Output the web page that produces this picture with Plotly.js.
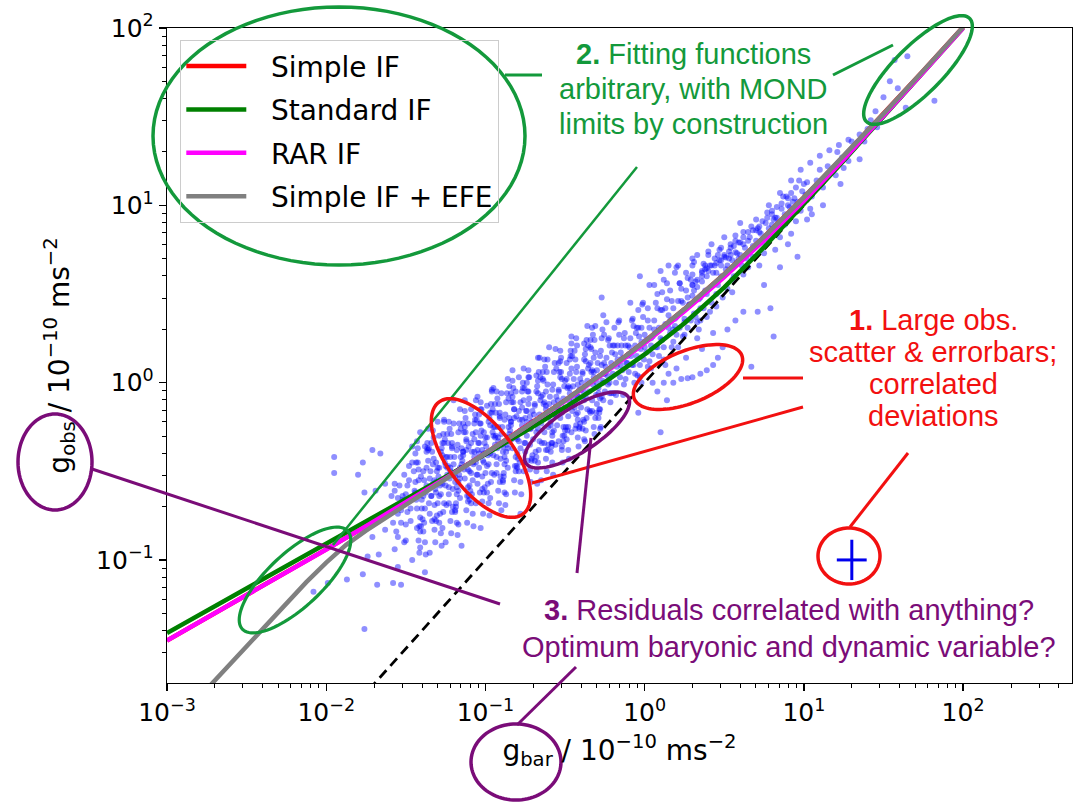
<!DOCTYPE html>
<html>
<head>
<meta charset="utf-8">
<script src="https://cdn.plot.ly/plotly-3.0.1.min.js"></script>
<style>
html,body{margin:0;padding:0;background:#ffffff;}
#chart{width:1077px;height:802px;}
</style>
</head>
<body>
<div id="chart"></div>
<script>
// ---------------- DATA ----------------
// model curves: g_bar grid and g_obs values (units 1e-10 m s^-2)
const gbar_grid = [0.001, 0.001778, 0.003162, 0.005623, 0.01, 0.01778, 0.03162, 0.05623, 0.1, 0.1778, 0.3162, 0.5623, 1, 1.778, 3.162, 5.623, 10, 17.78, 31.62, 56.23, 100];
const simple_if   = [0.035145, 0.047088, 0.0632, 0.085004, 0.11466, 0.15523, 0.21124, 0.28939, 0.4, 0.55929, 0.79406, 1.14937, 1.70416, 2.59895, 4.08978, 6.63931, 11.08276, 18.9084, 32.7776, 57.405, 101.186];
const standard_if = [0.038736, 0.051658, 0.068906, 0.091925, 0.12268, 0.16379, 0.21893, 0.29316, 0.39381, 0.53196, 0.7259, 1.00809, 1.4426, 2.16353, 3.44822, 5.80753, 10.1095, 17.8427, 31.6555, 56.25, 100.011];
const rar_if      = [0.03514, 0.04709, 0.0632, 0.08499, 0.1146, 0.15514, 0.211, 0.2889, 0.3988, 0.5565, 0.7876, 1.1344, 1.6705, 2.5257, 3.939, 6.352, 10.59, 18.167, 31.808, 56.29, 100.011];
const efe_gbar    = [0.001, 0.001778, 0.003162, 0.005623, 0.0075, 0.01, 0.01334, 0.01778, 0.02371, 0.03162, 0.05623, 0.1, 0.1778, 0.3162, 0.5623, 1, 1.778, 3.162, 5.623, 10, 17.78, 31.62, 56.23, 100];
const efe_gobs    = [0.01072, 0.01871, 0.03251, 0.05689, 0.07499, 0.09661, 0.1216, 0.1462, 0.173, 0.2018, 0.2818, 0.3981, 0.5593, 0.7941, 1.1494, 1.7042, 2.599, 4.0898, 6.6393, 11.0828, 18.9084, 32.7776, 57.405, 101.186];
// one-to-one (Newtonian) line
const newton_x = [0.01, 100];
const newton_y = [0.01, 100];
// typical error bar
const errbar_x = [20];
const errbar_y = [0.1];
const errbar_x_plus = [4.8];
const errbar_x_minus = [3.9];
const errbar_y_plus = [0.03];
const errbar_y_minus = [0.023];

// observed points, as [log10 g_bar, log10 g_obs]
const obs_lowend = [[-2.08,-1.18],[-1.99,-1.13],[-1.95,-0.42],[-1.95,-0.51],[-1.87,-1.11],[-1.80,-0.52],[-1.77,-0.45],[-1.76,-0.62],[-1.77,-1.08],[-1.76,-1.39],[-1.74,-0.98],[-1.71,-0.38],[-1.71,-0.87],[-1.69,-0.61],[-1.67,-0.78],[-1.67,-0.97],[-1.68,-1.14],[-1.66,-0.40],[-1.63,-0.57],[-1.63,-0.74],[-1.63,-0.83],[-1.58,-1.13],[-1.57,-0.61],[-1.57,-0.94],[-1.55,-0.65],[-1.55,-0.87],[-1.53,-0.72],[-1.53,-1.14],[-1.50,-0.89],[-1.46,-0.45],[-1.46,-1.00],[-1.38,-1.07]];
const obs_core1 = [[-1.52,-0.64],[-1.50,-0.80],[-1.48,-0.47],[-1.51,-0.90],[-1.49,-0.58],[-1.47,-0.71],[-1.45,-0.50],[-1.43,-0.82],[-1.46,-0.36],[-1.44,-0.62],[-1.42,-0.55],[-1.40,-0.71],[-1.38,-0.36],[-1.41,-0.93],[-1.39,-0.64],[-1.37,-0.48],[-1.35,-0.74],[-1.33,-0.57],[-1.36,-0.38],[-1.34,-0.64]];
const obs_core2 = [[-1.32,-0.55],[-1.30,-0.68],[-1.28,-0.39],[-1.31,-0.62],[-1.29,-0.30],[-1.32,-0.77],[-1.30,-0.48],[-1.28,-0.56],[-1.31,-0.45],[-1.29,-0.64],
[-1.27,-0.57],[-1.25,-0.47],[-1.23,-0.68],[-1.26,-0.34],[-1.24,-0.48],[-1.27,-0.82],[-1.25,-0.42],[-1.23,-0.59],[-1.26,-0.22],[-1.24,-0.52],
[-1.22,-0.42],[-1.20,-0.52],[-1.18,-0.63],[-1.21,-0.34],[-1.19,-0.72],[-1.22,-0.48],[-1.20,-0.23],[-1.18,-0.59],[-1.21,-0.37],[-1.19,-0.53],
[-1.17,-0.56],[-1.15,-0.46],[-1.13,-0.25],[-1.16,-0.65],[-1.14,-0.39],[-1.17,-0.80],[-1.15,-0.37],[-1.13,-0.10],[-1.16,-0.54],[-1.14,-0.41],
[-1.12,-0.33],[-1.10,-0.58],[-1.08,-0.45],[-1.11,-0.23],[-1.09,-0.51],[-1.12,-0.38],[-1.10,-0.66],[-1.08,-0.29],[-1.11,-0.49],[-1.09,-0.15],
[-1.07,-0.39],[-1.05,-0.52],[-1.03,-0.23],[-1.06,-0.68],[-1.04,-0.40],[-1.07,-0.32],[-1.05,-0.57],[-1.03,-0.15],[-1.06,-0.45],[-1.04,-0.34]];
const obs_core3 = [[-1.02,-0.38],[-1.00,-0.51],[-0.98,-0.22],[-1.01,-0.45],[-0.99,-0.13],[-1.02,-0.60],[-1.00,-0.31],[-0.98,-0.39],[-1.01,-0.28],[-0.99,-0.47],
[-0.97,-0.40],[-0.95,-0.30],[-0.93,-0.51],[-0.96,-0.17],[-0.94,-0.31],[-0.97,-0.65],[-0.95,-0.25],[-0.93,-0.42],[-0.96,-0.05],[-0.94,-0.35],
[-0.92,-0.25],[-0.90,-0.35],[-0.88,-0.46],[-0.91,-0.17],[-0.89,-0.55],[-0.92,-0.31],[-0.90,-0.06],[-0.88,-0.42],[-0.91,-0.20],[-0.89,-0.36],
[-0.87,-0.39],[-0.85,-0.29],[-0.83,-0.08],[-0.86,-0.48],[-0.84,-0.22],[-0.87,-0.63],[-0.85,-0.20],[-0.83,0.07],[-0.86,-0.37],[-0.84,-0.24],
[-0.82,-0.15],[-0.80,-0.40],[-0.78,-0.27],[-0.81,-0.05],[-0.79,-0.33],[-0.82,-0.20],[-0.80,-0.48],[-0.78,-0.11],[-0.81,-0.31],[-0.79,0.03],
[-0.77,-0.21],[-0.75,-0.34],[-0.73,-0.05],[-0.76,-0.50],[-0.74,-0.22],[-0.77,-0.14],[-0.75,-0.39],[-0.73,0.03],[-0.76,-0.27],[-0.74,-0.16]];
const obs_mid = [[-0.72,-0.19],[-0.70,-0.32],[-0.68,-0.05],[-0.71,-0.43],[-0.69,-0.12],[-0.72,-0.26],[-0.68,0.04],
[-0.67,-0.26],[-0.65,-0.08],[-0.63,-0.34],[-0.66,-0.18],[-0.64,0.02],[-0.67,-0.45],[-0.63,-0.11],
[-0.62,-0.05],[-0.60,-0.19],[-0.58,-0.28],[-0.61,0.13],[-0.59,-0.24],[-0.62,-0.13],[-0.58,-0.34],
[-0.57,-0.11],[-0.55,-0.24],[-0.53,0.03],[-0.56,-0.35],[-0.54,-0.04],[-0.57,-0.18],[-0.53,0.12],
[-0.52,-0.17],[-0.50,0.01],[-0.48,-0.25],[-0.51,-0.09],[-0.49,0.11],[-0.52,-0.36],[-0.48,-0.02],
[-0.47,0.05],[-0.45,-0.09],[-0.43,-0.18],[-0.46,0.22],[-0.44,-0.14],[-0.47,-0.03],[-0.43,-0.24],
[-0.42,-0.01],[-0.40,-0.14],[-0.38,0.13],[-0.41,-0.25],[-0.39,0.06],[-0.42,-0.08],[-0.38,0.22],
[-0.37,-0.08],[-0.35,0.10],[-0.33,-0.16],[-0.36,0.01],[-0.34,0.20],[-0.37,-0.27],[-0.33,0.07],
[-0.32,0.14],[-0.30,0.00],[-0.28,-0.09],[-0.31,0.32],[-0.29,-0.06],[-0.32,0.06],[-0.28,-0.15]];
const obs_dense = [
[-1.60,-0.73],[-1.59,-0.64],[-1.58,-0.79],[-1.57,-0.57],[-1.56,-0.84],
[-1.55,-0.74],[-1.54,-0.58],[-1.53,-0.79],[-1.52,-0.66],[-1.51,-0.52],
[-1.50,-0.63],[-1.49,-0.73],[-1.48,-0.55],[-1.47,-0.78],[-1.46,-0.65],
[-1.45,-0.65],[-1.44,-0.56],[-1.43,-0.71],[-1.42,-0.49],[-1.41,-0.76],[-1.445,-0.61],[-1.435,-0.66],[-1.425,-0.45],[-1.415,-0.81],[-1.405,-0.53],
[-1.40,-0.66],[-1.39,-0.50],[-1.38,-0.71],[-1.37,-0.58],[-1.36,-0.44],[-1.395,-0.77],[-1.385,-0.55],[-1.375,-0.62],[-1.365,-0.37],[-1.355,-0.68],
[-1.35,-0.54],[-1.34,-0.64],[-1.33,-0.46],[-1.32,-0.69],[-1.31,-0.56],[-1.345,-0.50],[-1.335,-0.78],[-1.325,-0.43],[-1.315,-0.60],[-1.305,-0.50],
[-1.30,-0.57],[-1.29,-0.48],[-1.28,-0.63],[-1.27,-0.41],[-1.26,-0.68],[-1.295,-0.53],[-1.285,-0.58],[-1.275,-0.37],[-1.265,-0.73],[-1.255,-0.45],
[-1.25,-0.58],[-1.24,-0.42],[-1.23,-0.63],[-1.22,-0.50],[-1.21,-0.36],[-1.245,-0.69],[-1.235,-0.47],[-1.225,-0.54],[-1.215,-0.29],[-1.205,-0.60],
[-1.20,-0.46],[-1.19,-0.56],[-1.18,-0.38],[-1.17,-0.61],[-1.16,-0.48],[-1.195,-0.42],[-1.185,-0.70],[-1.175,-0.35],[-1.165,-0.52],[-1.155,-0.42],
[-1.15,-0.48],[-1.14,-0.39],[-1.13,-0.54],[-1.12,-0.32],[-1.11,-0.59],[-1.145,-0.44],[-1.135,-0.49],[-1.125,-0.28],[-1.115,-0.64],[-1.105,-0.36],
[-1.10,-0.50],[-1.09,-0.34],[-1.08,-0.55],[-1.07,-0.42],[-1.06,-0.28],[-1.095,-0.61],[-1.085,-0.39],[-1.075,-0.46],[-1.065,-0.21],[-1.055,-0.52],
[-1.05,-0.38],[-1.04,-0.48],[-1.03,-0.30],[-1.02,-0.53],[-1.01,-0.40],[-1.045,-0.34],[-1.035,-0.62],[-1.025,-0.27],[-1.015,-0.44],[-1.005,-0.34],
[-1.00,-0.40],[-0.99,-0.31],[-0.98,-0.46],[-0.97,-0.24],[-0.96,-0.51],[-0.995,-0.36],[-0.985,-0.41],[-0.975,-0.20],[-0.965,-0.56],[-0.955,-0.28],
[-0.95,-0.41],[-0.94,-0.25],[-0.93,-0.46],[-0.92,-0.33],[-0.91,-0.19],[-0.945,-0.52],[-0.935,-0.30],[-0.925,-0.37],[-0.915,-0.12],[-0.905,-0.43],
[-0.90,-0.29],[-0.89,-0.39],[-0.88,-0.21],[-0.87,-0.44],[-0.86,-0.31],[-0.895,-0.25],[-0.885,-0.53],[-0.875,-0.18],[-0.865,-0.35],[-0.855,-0.25],
[-0.85,-0.31],[-0.84,-0.22],[-0.83,-0.37],[-0.82,-0.15],[-0.81,-0.42],[-0.845,-0.27],[-0.835,-0.32],[-0.825,-0.11],[-0.815,-0.47],[-0.805,-0.19],
[-0.80,-0.32],[-0.79,-0.16],[-0.78,-0.37],[-0.77,-0.24],[-0.76,-0.10],[-0.795,-0.43],[-0.785,-0.21],[-0.775,-0.28],[-0.765,-0.03],[-0.755,-0.34],
[-0.75,-0.20],[-0.74,-0.30],[-0.73,-0.12],[-0.72,-0.35],[-0.71,-0.22],[-0.745,-0.16],[-0.735,-0.44],[-0.725,-0.09],[-0.715,-0.26],[-0.705,-0.16],
[-0.70,-0.22],[-0.69,-0.13],[-0.68,-0.28],[-0.67,-0.06],[-0.66,-0.33],[-0.695,-0.18],[-0.685,-0.23],[-0.675,-0.02],[-0.665,-0.38],[-0.655,-0.10],
[-0.65,-0.23],[-0.64,-0.07],[-0.63,-0.28],[-0.62,-0.15],[-0.61,-0.01],[-0.645,-0.34],[-0.635,-0.12],[-0.625,-0.19],[-0.615,0.06],[-0.605,-0.25],
[-0.60,-0.12],[-0.59,-0.22],[-0.58,-0.04],[-0.57,-0.27],[-0.56,-0.14],[-0.595,-0.08],[-0.585,-0.36],[-0.575,-0.01],[-0.565,-0.18],[-0.555,-0.08],
[-0.55,-0.14],[-0.54,-0.05],[-0.53,-0.20],[-0.52,0.02],[-0.51,-0.25],[-0.545,-0.10],[-0.535,-0.15],[-0.525,0.06],[-0.515,-0.30],[-0.505,-0.02],
[-0.50,-0.14],[-0.49,0.02],[-0.48,-0.19],[-0.47,-0.06],[-0.46,0.08],[-0.495,-0.25],[-0.485,-0.03],[-0.475,-0.10],[-0.465,0.15],[-0.455,-0.16],
[-0.45,-0.02],[-0.44,-0.12],[-0.43,0.06],[-0.42,-0.17],[-0.41,-0.04],[-0.445,0.02],[-0.435,-0.26],[-0.425,0.09],[-0.415,-0.08],[-0.405,0.02],
[-0.40,-0.04],[-0.39,0.05],[-0.38,-0.10],[-0.37,0.12],[-0.36,-0.15],[-0.395,0.00],[-0.385,-0.05],[-0.375,0.16],[-0.365,-0.20],[-0.355,0.08],
[-0.35,-0.05],[-0.34,0.11],[-0.33,-0.10],[-0.32,0.03],[-0.31,0.17],[-0.345,-0.16],[-0.335,0.06],[-0.325,-0.01],[-0.315,0.24],[-0.305,-0.07],
[-0.30,0.07],[-0.29,-0.03],[-0.28,0.15],[-0.27,-0.08],[-0.26,0.05],[-0.295,0.11],[-0.285,-0.17],[-0.275,0.18],[-0.265,0.01],[-0.255,0.11],
[-0.25,0.05],[-0.24,0.14],[-0.23,-0.01],[-0.22,0.21],[-0.21,-0.06],[-0.245,0.09],[-0.235,0.04],[-0.225,0.25],[-0.215,-0.11],[-0.205,0.17],
[-0.20,0.05],[-0.19,0.21],[-0.18,0.00],[-0.17,0.13],[-0.16,0.27],[-0.195,-0.06],[-0.185,0.16],[-0.175,0.09],[-0.165,0.34],[-0.155,0.03],
[-0.15,0.17],[-0.14,0.07],[-0.13,0.25],[-0.12,0.02],[-0.11,0.15],[-0.145,0.21],[-0.135,-0.07],[-0.125,0.28],[-0.115,0.11],[-0.105,0.21],
[-0.10,0.16],[-0.09,0.25],[-0.08,0.10],[-0.07,0.32],[-0.06,0.05],[-0.095,0.20],[-0.085,0.15],[-0.075,0.36],[-0.065,0.00],[-0.055,0.28],
[-0.05,0.15],[-0.04,0.31],[-0.03,0.10],[-0.02,0.23],[-0.01,0.37],[-0.045,0.04],[-0.035,0.26],[-0.025,0.19],[-0.015,0.44],[-0.005,0.13],
[0.00,0.27],[0.01,0.17],[0.02,0.35],[0.03,0.12],[0.04,0.25],
[0.05,0.26],[0.06,0.35],[0.07,0.20],[0.08,0.42],[0.09,0.15],
[0.10,0.25],[0.11,0.41],[0.12,0.20],[0.13,0.33],[0.14,0.47],
[0.15,0.38],[0.16,0.28],[0.17,0.46],[0.18,0.23],[0.19,0.36],
[0.20,0.37],[0.21,0.46],[0.22,0.31],[0.23,0.53],[0.24,0.26],
[0.25,0.36],[0.26,0.52],[0.27,0.31],[0.28,0.44],[0.29,0.58],
[0.30,0.49],[0.31,0.39],[0.32,0.57],[0.33,0.34],[0.34,0.47],
[0.35,0.48],[0.36,0.57],[0.37,0.42],[0.38,0.64],[0.39,0.37]];
const obs_wide = [
[-1.44,-0.40],[-1.42,-0.89],[-1.43,-0.33],[-1.41,-0.84],[-1.435,-0.45],[-1.415,-0.96],[-1.425,-0.37],[-1.405,-0.81],
[-1.39,-0.84],[-1.37,-0.39],[-1.38,-0.90],[-1.36,-0.26],[-1.385,-0.79],[-1.365,-0.34],[-1.375,-0.97],[-1.355,-0.37],
[-1.34,-0.34],[-1.32,-0.83],[-1.33,-0.27],[-1.31,-0.78],[-1.335,-0.39],[-1.315,-0.90],[-1.325,-0.31],[-1.305,-0.75],
[-1.29,-0.79],[-1.27,-0.34],[-1.28,-0.85],[-1.26,-0.21],[-1.285,-0.74],[-1.265,-0.29],[-1.275,-0.92],[-1.255,-0.32],
[-1.24,-0.29],[-1.22,-0.78],[-1.23,-0.22],[-1.21,-0.73],[-1.235,-0.34],[-1.215,-0.85],[-1.225,-0.26],[-1.205,-0.70],
[-1.19,-0.73],[-1.17,-0.28],[-1.18,-0.79],[-1.16,-0.15],[-1.185,-0.68],[-1.165,-0.23],[-1.175,-0.86],[-1.155,-0.26],
[-1.14,-0.23],[-1.12,-0.72],[-1.13,-0.16],[-1.11,-0.67],[-1.135,-0.28],[-1.115,-0.79],[-1.125,-0.20],[-1.105,-0.64],
[-1.09,-0.68],[-1.07,-0.23],[-1.08,-0.74],[-1.06,-0.10],[-1.085,-0.63],[-1.065,-0.18],[-1.075,-0.81],[-1.055,-0.21],
[-1.04,-0.18],[-1.02,-0.67],[-1.03,-0.11],[-1.01,-0.62],[-1.035,-0.23],[-1.015,-0.74],[-1.025,-0.15],[-1.005,-0.59],
[-0.99,-0.62],[-0.97,-0.17],[-0.98,-0.68],[-0.96,-0.04],[-0.985,-0.57],[-0.965,-0.12],[-0.975,-0.75],[-0.955,-0.15],
[-0.94,-0.12],[-0.92,-0.61],[-0.93,-0.05],[-0.91,-0.56],[-0.935,-0.17],[-0.915,-0.68],[-0.925,-0.09],[-0.905,-0.53],
[-0.89,-0.56],[-0.87,-0.11],[-0.88,-0.62],[-0.86,0.02],[-0.885,-0.51],[-0.865,-0.06],[-0.875,-0.69],[-0.855,-0.09],
[-0.84,-0.06],[-0.82,-0.55],[-0.83,0.01],[-0.81,-0.50],[-0.835,-0.11],[-0.815,-0.62],[-0.825,-0.03],[-0.805,-0.47],
[-0.79,-0.50],[-0.77,-0.05],[-0.78,-0.56],[-0.76,0.08],[-0.785,-0.45],[-0.765,0.00],[-0.775,-0.63],[-0.755,-0.03],
[-0.74,0.00],[-0.72,-0.49],[-0.73,0.07],[-0.71,-0.44],[-0.735,-0.05],[-0.715,-0.56],[-0.725,0.03],[-0.705,-0.41],
[-0.69,-0.44],[-0.67,0.01],[-0.68,-0.50],[-0.66,0.14],[-0.685,-0.39],[-0.665,0.06],[-0.675,-0.57],[-0.655,0.03],
[-0.64,0.06],[-0.62,-0.43],[-0.63,0.13],[-0.61,-0.38],[-0.635,0.01],[-0.615,-0.50],[-0.625,0.09],[-0.605,-0.35],
[-0.59,-0.39],[-0.57,0.06],[-0.58,-0.45],[-0.56,0.19],[-0.585,-0.34],[-0.565,0.11],[-0.575,-0.52],[-0.555,0.08],
[-0.54,0.11],[-0.52,-0.38],[-0.53,0.18],[-0.51,-0.33],[-0.535,0.06],[-0.515,-0.45],[-0.525,0.14],[-0.505,-0.30],
[-0.49,-0.32],[-0.47,0.13],[-0.48,-0.38],[-0.46,0.26],[-0.485,-0.27],[-0.465,0.18],[-0.475,-0.43],[-0.455,0.15],
[-0.44,0.18],[-0.42,-0.31],[-0.43,0.25],[-0.41,-0.26],[-0.435,0.13],[-0.415,-0.36],[-0.425,0.21],[-0.405,-0.23],
[-0.39,-0.26],[-0.37,0.19],[-0.38,-0.32],[-0.36,0.32],[-0.385,-0.21],[-0.365,0.24],[-0.375,-0.33],[-0.355,0.21],
[-0.34,0.24],[-0.32,-0.25],[-0.33,0.31],[-0.31,-0.20],[-0.335,0.19],[-0.315,-0.29],[-0.325,0.27],[-0.305,-0.17],
[-0.29,-0.20],[-0.27,0.25],[-0.28,-0.26],[-0.26,0.38],[-0.285,-0.15],[-0.265,0.30],[-0.275,-0.25],[-0.255,0.27],
[0.02,0.42],[0.04,0.08],[0.06,0.30],[0.08,0.50],[0.11,0.24],[0.13,0.10],[0.16,0.52],[0.18,0.30],[0.21,0.20],[0.24,0.45],
[0.26,0.62],[0.29,0.35],[0.31,0.52],[0.34,0.30],[0.36,0.62],[0.39,0.50],[0.41,0.40],[0.44,0.70],[0.46,0.55],[0.49,0.48],
[0.51,0.64],[0.54,0.76],[0.56,0.60],[0.59,0.70],[0.61,0.66],[0.03,0.55],[0.12,0.58],[0.19,0.62],[0.27,0.48],[0.33,0.72]];
const obs_below_knee = [[-0.68,-0.42],[-0.62,-0.38],[-0.58,-0.30],[-0.54,-0.33],[-0.50,-0.27],[-0.46,-0.28],[-0.42,-0.21],[-0.38,-0.22],[-0.34,-0.17],[-0.30,-0.12],[-0.26,-0.10],[-0.22,-0.06]];
const obs_knee = [[-0.27,0.10],[-0.25,-0.05],[-0.23,0.24],[-0.26,0.00],[-0.24,0.34],
[-0.22,0.00],[-0.20,0.21],[-0.18,-0.07],[-0.21,0.11],[-0.19,0.31],
[-0.17,0.21],[-0.15,0.10],[-0.13,-0.01],[-0.16,0.35],[-0.14,0.14],
[-0.12,0.21],[-0.10,0.06],[-0.08,0.35],[-0.11,0.11],[-0.09,0.45],
[-0.07,0.10],[-0.05,0.31],[-0.03,0.03],[-0.06,0.21],[-0.04,0.41],
[-0.02,0.31],[0.00,0.20],[0.02,0.09],[-0.01,0.45],[0.01,0.24],
[0.03,0.31],[0.05,0.16],[0.07,0.45],[0.04,0.21],[0.06,0.55],
[0.08,0.20],[0.10,0.41],[0.12,0.13],[0.09,0.31],[0.11,0.51],
[0.13,0.42],[0.15,0.31],[0.17,0.20],[0.14,0.56],[0.16,0.35],
[0.18,0.42],[0.20,0.27],[0.22,0.56],[0.19,0.32],[0.21,0.66]];
const obs_upper = [[0.23,0.46],[0.25,0.34],[0.27,0.59],[0.25,0.27],
[0.28,0.44],[0.30,0.66],[0.32,0.37],[0.30,0.55],
[0.33,0.54],[0.35,0.42],[0.37,0.67],[0.35,0.35],
[0.38,0.52],[0.40,0.74],[0.42,0.45],[0.40,0.63],
[0.43,0.62],[0.45,0.50],[0.47,0.75],[0.45,0.43],
[0.48,0.60],[0.50,0.82],[0.52,0.53],[0.50,0.71],
[0.53,0.70],[0.55,0.58],[0.57,0.83],[0.55,0.51],
[0.58,0.68],[0.60,0.90],[0.62,0.61],[0.60,0.79],
[0.30,0.55],[0.33,0.58],[0.36,0.60],[0.39,0.60],[0.41,0.66],[0.44,0.66],[0.47,0.69],[0.50,0.72],[0.53,0.74],[0.56,0.77],
[0.59,0.79],[0.62,0.82],[0.65,0.80],[0.68,0.86],[0.71,0.87],[0.74,0.91],[0.77,0.93],[0.80,0.97],[0.83,0.99],[0.86,1.01],
[0.89,1.05],[0.92,1.07],[0.95,1.10],[0.30,0.70],[0.42,0.78]];
const obs_high = [[0.63,0.76],[0.65,0.65],[0.67,0.88],[0.68,0.71],[0.70,0.86],[0.72,0.66],
[0.73,0.84],[0.75,0.73],[0.77,0.96],[0.78,0.80],[0.80,0.95],[0.82,0.75],
[0.83,0.93],[0.85,0.82],[0.87,1.05],[0.88,0.89],[0.90,1.04],[0.92,0.84],
[0.93,1.02],[0.95,0.91],[0.97,1.14],[0.98,0.97],[1.00,1.12],[1.02,0.92],
[0.60,0.72],[0.62,0.78],[0.64,0.70],[0.66,0.82],[0.68,0.77],[0.70,0.80],[0.72,0.85],[0.74,0.79],[0.76,0.90],[0.78,0.87],
[0.80,0.89],[0.82,0.93],[0.84,0.90],[0.86,0.98],[0.88,0.95],[0.91,0.99],[0.94,1.04],[0.96,1.02],[0.99,1.08],[1.01,1.06],
[0.52,0.66],[0.55,0.69],[0.58,0.73],[0.45,0.62],[0.48,0.66]];
const obs_streaks = [[0.22,0.56],[0.30,0.61],[0.38,0.66],[0.46,0.72],[0.54,0.78],[0.62,0.85],[0.70,0.92],[0.78,1.00],[0.85,1.07],[0.92,1.14],[0.98,1.20],[1.04,1.24],[1.10,1.28],[1.16,1.31],[1.22,1.34],[1.28,1.37],
[-0.03,0.60],[0.10,0.63],[0.20,0.65],[0.31,0.68],[0.40,0.72],[0.48,0.76],[0.57,0.80],[0.65,0.85],[0.72,0.88],[0.81,0.92],[0.90,1.00],[1.02,1.13],[1.10,1.20],[1.21,1.30],
[0.36,0.63],[0.39,0.645],[0.42,0.66],[0.45,0.675],[0.48,0.69],[0.51,0.705],[0.54,0.72],[0.57,0.735]];
const obs_below_high = [[0.71,0.40],[0.79,0.42],[0.81,0.26],[0.67,0.09],[0.96,0.71],[0.85,0.65],[1.12,1.00],[1.23,1.12],[1.35,1.26],[0.75,0.55],[0.90,0.78],[1.05,0.95]];
const obs_chain = [[-0.02,0.00],[0.05,0.00],[0.12,0.00],[0.18,0.00],[0.23,0.02],[0.27,0.025],[0.30,0.03],[0.35,0.05],[0.39,0.07],[0.43,0.10],[0.46,0.14],[0.49,0.20],
[0.14,-0.10],[0.10,-0.28],[-0.04,-0.17],[0.57,0.35],[0.43,0.28],[0.33,0.25],[0.20,0.08],[0.26,0.14],[0.36,0.19],[0.52,0.30],[0.62,0.40],[0.15,0.05],[0.08,-0.05]];
const obs_top = [[1.45,1.53],[1.50,1.61],[1.54,1.70],[1.59,1.66],[1.57,1.82],[1.65,1.84],[1.64,1.55],[1.82,1.59],[1.35,1.40],[1.40,1.43],[1.42,1.48],[1.30,1.36],[1.38,1.36],[1.46,1.44],
[1.05,1.05],[1.08,1.14],[1.12,1.10],[1.16,1.18],[1.20,1.17],[1.24,1.27],[1.28,1.25],[1.32,1.33],[1.04,0.98],[1.15,1.22],[1.25,1.21]];
const obs_outliers = [[-1.41,-0.28],[-1.20,-0.10],[-0.95,-0.03],[-1.30,-0.22],[-1.05,-0.08],[-0.67,0.14],[-0.85,-0.02],[-0.60,0.20],
[-1.03,-0.82],[-0.78,-0.74],[-1.35,-0.96],[-1.55,-1.04],[-0.90,-0.72],[-1.15,-0.92],[-0.65,-0.55],[-1.25,-0.90],[-0.27,0.48],[0.15,0.66]];

// tick labels and legend names
const major_ticks = [0.001, 0.01, 0.1, 1, 10, 100];
const major_text = ['10<sup>\u22123</sup>','10<sup>\u22122</sup>','10<sup>\u22121</sup>','10<sup>0</sup>','10<sup>1</sup>','10<sup>2</sup>'];
const legend_names = ['Simple IF', 'Standard IF', 'RAR IF', 'Simple IF + EFE'];

// ---------------- BUILD ----------------
const allObs = [].concat(obs_lowend, obs_core1, obs_core2, obs_core3, obs_mid, obs_dense, obs_wide, obs_below_knee, obs_knee, obs_upper, obs_high, obs_streaks, obs_below_high, obs_chain, obs_top, obs_outliers);
const obsX = allObs.map(p => Math.pow(10, p[0]));
const obsY = allObs.map(p => Math.pow(10, p[1]));

function minorTicks(lo, hi) {
  const out = [];
  for (let e = lo; e <= hi; e++) for (let m = 2; m <= 9; m++) out.push(m * Math.pow(10, e));
  return out;
}
const LEG_PAD = '\u2002\u2009';

const traces = [
  {type:'scatter', mode:'markers', x: obsX, y: obsY, showlegend:false, hoverinfo:'skip',
   marker:{color:'#0000ff', size:6, opacity:0.44, line:{width:0}}},
  {type:'scatter', mode:'lines', x: newton_x, y: newton_y, showlegend:false, hoverinfo:'skip',
   line:{color:'#000000', width:2.8, dash:'10px,6px'}},
  {type:'scatter', mode:'lines', x: gbar_grid, y: simple_if, name: LEG_PAD + legend_names[0], legendgroup:'a', line:{color:'#ff0000', width:4.5}},
  {type:'scatter', mode:'lines', x: gbar_grid, y: standard_if, name: LEG_PAD + legend_names[1], legendgroup:'b', line:{color:'#008000', width:4.5}},
  {type:'scatter', mode:'lines', x: gbar_grid, y: rar_if, name: LEG_PAD + legend_names[2], legendgroup:'c', line:{color:'#ff00ff', width:4.5}},
  {type:'scatter', mode:'lines', x: efe_gbar, y: efe_gobs, name: LEG_PAD + legend_names[3], legendgroup:'d', line:{color:'#808080', width:4.5}},
  {type:'scatter', mode:'markers', x: errbar_x, y: errbar_y, showlegend:false, hoverinfo:'skip',
   marker:{size:1, color:'rgba(0,0,255,0)'},
   error_x:{type:'data', symmetric:false, array: errbar_x_plus, arrayminus: errbar_x_minus, color:'#0000ee', thickness:3, width:0},
   error_y:{type:'data', symmetric:false, array: errbar_y_plus, arrayminus: errbar_y_minus, color:'#0000ee', thickness:3, width:0}}
];

// ---------------- ANNOTATION GEOMETRY (figure pixels) ----------------
const L = 167, R = 1072, T = 28, B = 683;
const fx = px => (px - L) / (R - L);
const fy = py => (B - py) / (B - T);
function ellipsePath(cx, cy, a, b, deg) {
  const t = deg * Math.PI / 180, n = 96;
  let d = '';
  for (let i = 0; i <= n; i++) {
    const u = 2 * Math.PI * i / n;
    const px = cx + a * Math.cos(u) * Math.cos(t) - b * Math.sin(u) * Math.sin(t);
    const py = cy + a * Math.cos(u) * Math.sin(t) + b * Math.sin(u) * Math.cos(t);
    d += (i ? 'L' : 'M') + fx(px).toFixed(5) + ',' + fy(py).toFixed(5);
  }
  return d + 'Z';
}
const GREEN = '#13993b', RED = '#f21010', PURPLE = '#7a0c78';
function ell(cx, cy, a, b, deg, color, w) {
  return {type:'path', xref:'paper', yref:'paper', layer:'above', path: ellipsePath(cx, cy, a, b, deg),
          line:{color: color, width: w}, fillcolor:'rgba(0,0,0,0)'};
}
function seg(x0, y0, x1, y1, color, w) {
  return {type:'line', xref:'paper', yref:'paper', layer:'above', x0: fx(x0), y0: fy(y0), x1: fx(x1), y1: fy(y1),
          line:{color: color, width: w}};
}
const shapes = [
  // green
  ell(339, 136, 186, 129, 0, GREEN, 3.5),
  seg(505, 75, 542, 75, GREEN, 3),
  seg(833, 75, 893, 45, GREEN, 3),
  ell(918, 70, 73, 24, -45, GREEN, 3.5),
  seg(637, 167, 333, 545, GREEN, 2.5),
  ell(295, 580, 72, 27, -43, GREEN, 3.2),
  // red
  ell(481, 458, 70, 33, 53, RED, 3.5),
  ell(688, 377, 58, 26, -22, RED, 3.5),
  seg(743, 378, 803, 378, RED, 3),
  seg(532, 483, 803, 407, RED, 3),
  seg(908, 453, 850, 527, RED, 3),
  ell(849, 556, 31, 28, 0, RED, 3.5),
  // purple
  ell(55, 462, 37, 48, 0, PURPLE, 3.5),
  seg(92, 469, 500, 604, PURPLE, 3),
  ell(577, 430, 61, 22, -33, PURPLE, 3.5),
  seg(591, 438, 577, 573, PURPLE, 3),
  seg(576, 667, 517, 725, PURPLE, 3),
  ell(516, 762, 45, 38, 0, PURPLE, 3.5)
];

function txt(x, y, text, color) {
  return {xref:'paper', yref:'paper', x: fx(x), y: fy(y), xanchor:'center', yanchor:'middle', showarrow:false,
          text: text, font:{family:'Liberation Sans, Arial, sans-serif', size:29, color: color}};
}
const annotations = [
  txt(693, 54, '<b>2.</b> Fitting functions', GREEN),
  txt(693, 89, 'arbitrary, with MOND', GREEN),
  txt(693, 124, 'limits by construction', GREEN),
  txt(933, 320, '<b>1.</b> Large obs.', RED),
  txt(933, 352, 'scatter &amp; errorbars;', RED),
  txt(933, 384, 'correlated', RED),
  txt(933, 416, 'deviations', RED),
  txt(789, 610, '<b>3.</b> Residuals correlated with anything?', PURPLE),
  txt(789, 647, 'Optimum baryonic and dynamic variable?', PURPLE)
];

const axisCommon = {
  type:'log', tickmode:'array', tickvals: major_ticks, ticktext: major_text,
  ticks:'outside', ticklen:7, tickwidth:1.3, tickcolor:'#000',
  showline:true, linecolor:'#000', linewidth:1.3, mirror:true,
  showgrid:false, zeroline:false, automargin:false,
  tickfont:{family:'DejaVu Sans, sans-serif', size:25, color:'#000'}
};

const layout = {
  width:1077, height:802,
  margin:{l:L, r:1077 - R, t:T, b:802 - B, pad:0},
  paper_bgcolor:'#ffffff', plot_bgcolor:'#ffffff',
  showlegend:true,
  legend:{x: fx(180), y: fy(40), xanchor:'left', yanchor:'top',
          bgcolor:'rgba(255,255,255,0)', bordercolor:'#cccccc', borderwidth:1.3,
          font:{family:'DejaVu Sans, sans-serif', size:28, color:'#000'},
          itemwidth:60, traceorder:'grouped', tracegroupgap:4},
  xaxis: Object.assign({}, axisCommon, {
    range:[-3, 2.684],
    minor:{tickmode:'array', tickvals: minorTicks(-3, 2), ticks:'outside', ticklen:4, tickwidth:1, tickcolor:'#000', showgrid:false},
    title:{text:'g<sub>bar</sub> / 10<sup>\u221210</sup> ms<sup>\u22122</sup>', standoff:14,
           font:{family:'DejaVu Sans, sans-serif', size:28, color:'#000'}}
  }),
  yaxis: Object.assign({}, axisCommon, {
    range:[-1.694, 2],
    minor:{tickmode:'array', tickvals: minorTicks(-2, 1), ticks:'outside', ticklen:4, tickwidth:1, tickcolor:'#000', showgrid:false},
    title:{text:'g<sub>obs</sub> / 10<sup>\u221210</sup> ms<sup>\u22122</sup>', standoff:18,
           font:{family:'DejaVu Sans, sans-serif', size:28, color:'#000'}}
  }),
  shapes: shapes,
  annotations: annotations
};

Plotly.newPlot('chart', traces, layout, {staticPlot:true, displayModeBar:false});
</script>
</body>
</html>
